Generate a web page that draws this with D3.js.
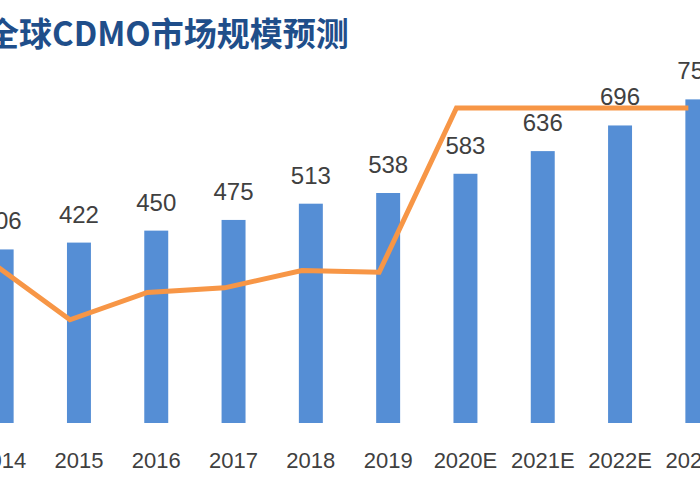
<!DOCTYPE html>
<html><head><meta charset="utf-8">
<script src="https://cdn.jsdelivr.net/npm/d3@7"></script>
<style>body{margin:0;background:#fff}svg{display:block}</style>
</head><body>
<svg id="chart" width="700" height="500"></svg>
<script>
// market size data
var years = ['2014','2015','2016','2017','2018','2019','2020E','2021E','2022E','2023E'];
var marketSize = [406, 422, 450, 475, 513, 538, 583, 636, 696, 757];
var sizeLabels = ['406','422','450','475','513','538','583','636','696','757'];
var growth = [7.0, 3.9, 5.4, 5.65, 6.6, 6.5, 15.5, 15.5, 15.5, 15.5];

var svg = d3.select('#chart');
var font = "'Liberation Sans', 'Noto Sans', sans-serif";

svg.append('text')
    .attr('x', -14).attr('y', 46)
    .attr('fill', '#1f4e8a')
    .attr('font-family', "'Noto Sans CJK SC', serif")
    .attr('font-weight', 'bold')
    .attr('font-size', 33)
    .text('全球CDMO市场规模预测');

var x = d3.scaleBand().domain(years).range([-37, 736]).paddingInner(0.69).paddingOuter(0.345);
var y = d3.scaleLinear().domain([0, 800]).range([423, 81]);
var y2 = d3.scaleLinear().domain([0, 15.5]).range([391, 108]);

svg.selectAll('rect.bar').data(years).enter()
    .append('rect').attr('class', 'bar')
    .attr('x', function(d){return x(d);})
    .attr('width', x.bandwidth())
    .attr('y', function(d, i){return y(marketSize[i]);})
    .attr('height', function(d, i){return y(0) - y(marketSize[i]);})
    .attr('fill', '#558ed5');

svg.append('path')
    .datum(growth)
    .attr('d', d3.line()
        .x(function(d, i){return x(years[i]) + x.bandwidth()/2 - 9;})
        .y(function(d){return y2(d);}))
    .attr('fill', 'none')
    .attr('stroke', '#f79646')
    .attr('stroke-width', 5);

svg.selectAll('text.val').data(years).enter()
    .append('text').attr('class', 'val')
    .attr('x', function(d){return x(d) + x.bandwidth()/2;})
    .attr('y', function(d, i){return y(marketSize[i]) - 20;})
    .attr('text-anchor', 'middle')
    .attr('font-family', font).attr('font-size', 24).attr('fill', '#404040')
    .text(function(d, i){return sizeLabels[i];});

svg.selectAll('text.yr').data(years).enter()
    .append('text').attr('class', 'yr')
    .attr('x', function(d){return x(d) + x.bandwidth()/2;})
    .attr('y', 468)
    .attr('text-anchor', 'middle')
    .attr('font-family', font).attr('font-size', 22).attr('fill', '#404040')
    .text(function(d){return d;});
</script>
</body></html>
